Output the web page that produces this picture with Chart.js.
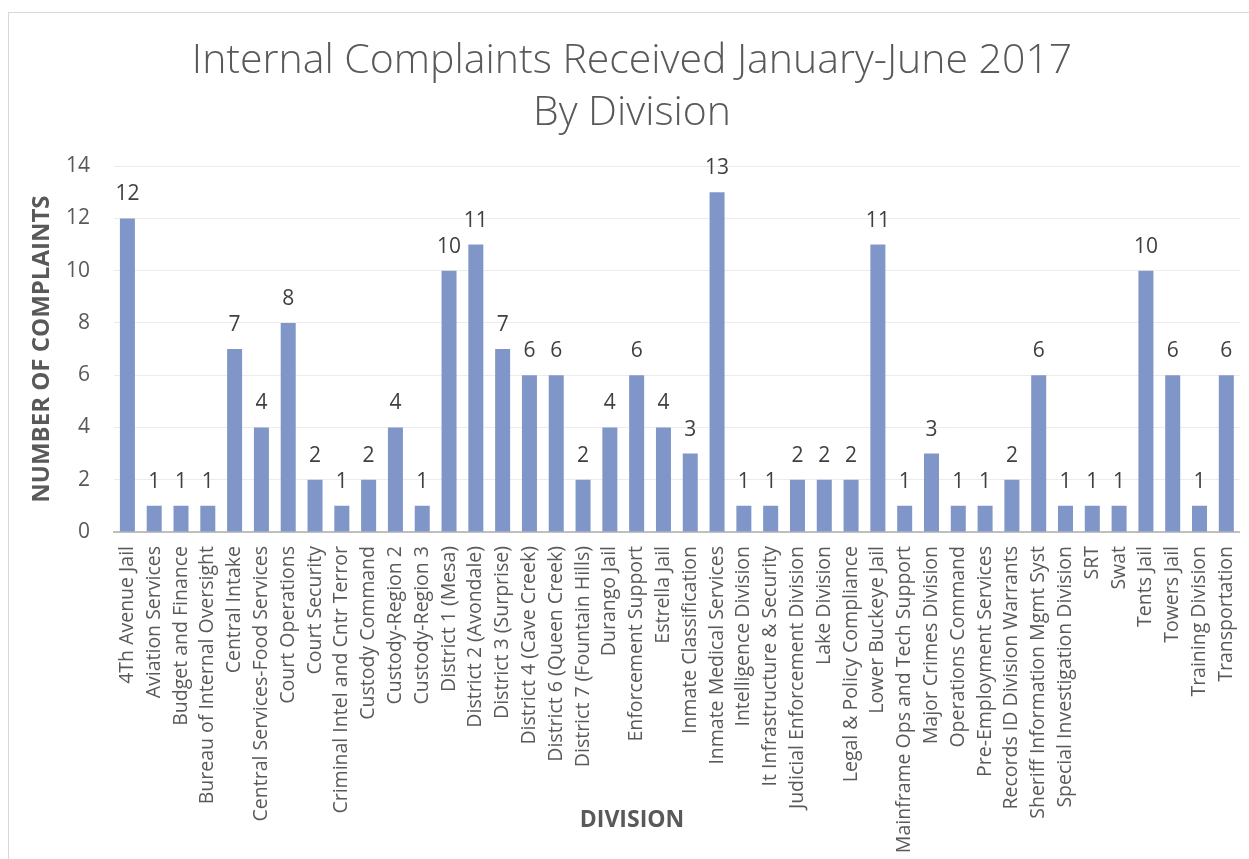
<!DOCTYPE html>
<html lang="en">
<head>
    <meta charset="UTF-8">
    <title>Internal Complaints Received January-June 2017</title>
    <script src="https://cdn.jsdelivr.net/npm/chart.js"></script>
    <style>
        body { margin: 0; background: #fff; }
        #wrap { position: relative; width: 1249px; height: 859px; overflow: hidden; }
        #frame { position: absolute; left: 8px; top: 12px; width: 1300px; height: 900px; border: 1px solid #d9d9d9; }
        #chart { position: absolute; left: 0; top: 0; }
    </style>
</head>
<body>
<div id="wrap">
    <div id="frame"></div>
    <!-- canvas a bit wider than the window so centred titles sit where Excel put them -->
    <canvas id="chart" width="1264" height="859"></canvas>
</div>
<script>
    const divisions = [
        '4Th Avenue Jail', 'Aviation Services', 'Budget and Finance', 'Bureau of Internal Oversight',
        'Central Intake', 'Central Services-Food Services', 'Court Operations', 'Court Security',
        'Criminal Intel and Cntr Terror', 'Custody Command', 'Custody-Region 2', 'Custody-Region 3',
        'District 1 (Mesa)', 'District 2 (Avondale)', 'District 3 (Surprise)', 'District 4 (Cave Creek)',
        'District 6 (Queen Creek)', 'District 7 (Fountain Hills)', 'Durango Jail', 'Enforcement Support',
        'Estrella Jail', 'Inmate Classification', 'Inmate Medical Services', 'Intelligence Division',
        'It Infrastructure & Security', 'Judicial Enforcement Division', 'Lake Division', 'Legal & Policy Compliance',
        'Lower Buckeye Jail', 'Mainframe Ops and Tech Support', 'Major Crimes Division', 'Operations Command',
        'Pre-Employment Services', 'Records ID Division Warrants', 'Sheriff Information Mgmt Syst', 'Special Investigation Division',
        'SRT', 'Swat', 'Tents Jail', 'Towers Jail', 'Training Division', 'Transportation'
    ];
    const complaints = [
        12, 1, 1, 1,
        7, 4, 8, 2,
        1, 2, 4, 1,
        10, 11, 7, 6,
        6, 2, 4, 6,
        4, 3, 13, 1,
        1, 2, 2, 2,
        11, 1, 3, 1,
        1, 2, 6, 1,
        1, 1, 10, 6, 1, 6
    ];
    const yTicks = [0, 2, 4, 6, 8, 10, 12, 14];
    const xTitle = 'DIVISION';

    // value labels above each bar
    const barLabels = {
        id: 'barLabels',
        afterDatasetsDraw(chart) {
            const ctx = chart.ctx;
            const meta = chart.getDatasetMeta(0);
            ctx.save();
            ctx.font = '21px "Open Sans"';
            ctx.fillStyle = '#404040';
            ctx.textAlign = 'center';
            ctx.textBaseline = 'alphabetic';
            meta.data.forEach((bar, i) => {
                ctx.fillText(complaints[i], bar.x, bar.y - 18);
            });
            ctx.restore();
        }
    };

    // x axis title centred on the whole chart (Excel does not centre it on the plot)
    const divisionTitle = {
        id: 'divisionTitle',
        afterDraw(chart) {
            const ctx = chart.ctx;
            ctx.save();
            ctx.font = 'bold 23px "Open Sans"';
            ctx.fillStyle = '#595959';
            ctx.textAlign = 'center';
            ctx.textBaseline = 'middle';
            ctx.fillText(xTitle, chart.width / 2, chart.height - 39);
            ctx.restore();
        }
    };

    new Chart(document.getElementById('chart'), {
        type: 'bar',
        data: {
            labels: divisions,
            datasets: [{
                data: complaints,
                backgroundColor: '#8096c8',
                barPercentage: 0.56,
                categoryPercentage: 1
            }]
        },
        options: {
            responsive: false,
            animation: false,
            layout: { padding: { left: 24, right: 24, top: 0, bottom: 0 } },
            plugins: {
                legend: { display: false },
                tooltip: { enabled: false },
                title: {
                    display: true,
                    text: ['Internal Complaints Received January-June 2017', 'By Division'],
                    color: '#595959',
                    font: { family: 'Open Sans', size: 41, weight: 300, lineHeight: 1.27 },
                    padding: { top: 35, bottom: 27 }
                }
            },
            scales: {
                x: {
                    grid: { display: false, drawTicks: false },
                    border: { color: '#bfbfbf', width: 2 },
                    ticks: {
                        autoSkip: false,
                        minRotation: 90,
                        maxRotation: 90,
                        padding: 14,
                        color: '#595959',
                        font: { family: 'Open Sans', size: 19.5 }
                    },
                    afterFit(scale) { scale.height = 859 - 532; }
                },
                y: {
                    min: 0,
                    max: 14,
                    afterBuildTicks(scale) { scale.ticks = yTicks.map(v => ({ value: v })); },
                    grid: { color: '#ececec', drawTicks: false },
                    border: { display: false },
                    ticks: {
                        padding: 24,
                        color: '#595959',
                        font: { family: 'Open Sans', size: 21 }
                    },
                    title: {
                        display: true,
                        text: 'NUMBER OF COMPLAINTS',
                        color: '#595959',
                        font: { family: 'Open Sans', size: 24, weight: 'bold' },
                        padding: { top: 4, bottom: 0 }
                    },
                    afterFit(scale) { scale.width = 90; }
                }
            }
        },
        plugins: [barLabels, divisionTitle]
    });
</script>
</body>
</html>
